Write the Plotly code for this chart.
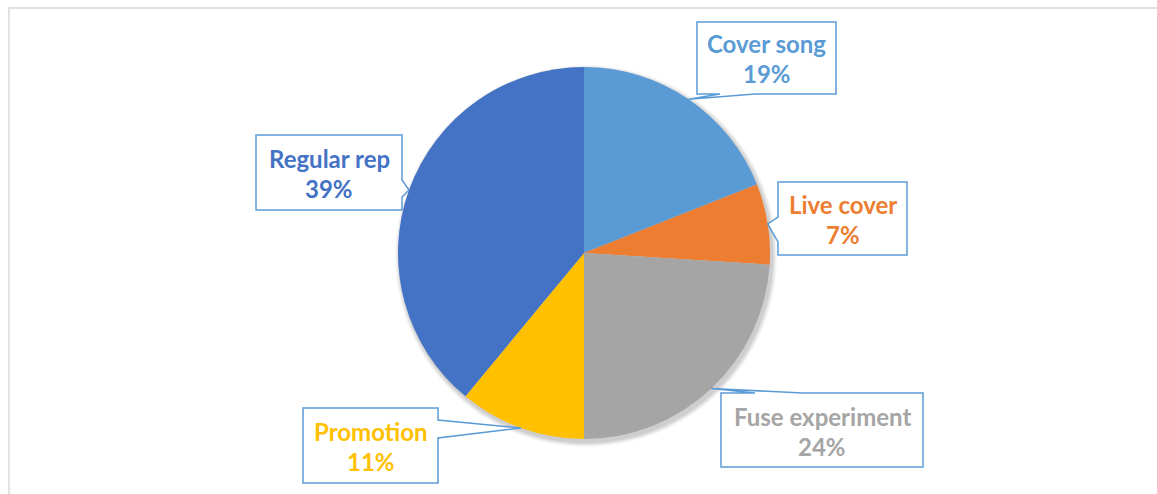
import math
import plotly.graph_objects as go

# Share of each category, clockwise from 12 o'clock
categories = ["Cover song", "Live cover", "Fuse experiment", "Promotion", "Regular rep"]
shares = [19, 7, 24, 11, 39]
colors = ["#5B9BD5", "#ED7D31", "#A5A5A5", "#FFC000", "#4472C4"]

W, H = 1157, 494
CX, CY, R = 584, 253, 186          # pie centre and radius in pixels
BORDER_BLUE = "#5B9BD5"

# Callout boxes (x0, y0, x1, y1 in px, top-down), side that carries the pointer,
# and the span on that side where the pointer leaves the box
callouts = {
    "Cover song":      ((697, 22, 836, 94),  "bottom", (720, 755)),
    "Live cover":      ((778, 182, 907, 255), "left",   (217, 242)),
    "Fuse experiment": ((721, 393, 923, 467), "top",    (755, 803)),
    "Promotion":       ((303, 408, 438, 483), "right",  (420, 438)),
    "Regular rep":     ((256, 135, 402, 210), "right",  (180, 197)),
}


def px(x, y):
    return x / W, 1 - y / H


def callout_path(box, side, span, tip):
    x0, y0, x1, y1 = box
    a, b = span
    tx, ty = tip
    if side == "bottom":
        pts = [(x0, y0), (x1, y0), (x1, y1), (b, y1), (tx, ty), (a, y1), (x0, y1)]
    elif side == "top":
        pts = [(x0, y0), (a, y0), (tx, ty), (b, y0), (x1, y0), (x1, y1), (x0, y1)]
    elif side == "left":
        pts = [(x0, y0), (x1, y0), (x1, y1), (x0, y1), (x0, b), (tx, ty), (x0, a)]
    else:  # right
        pts = [(x0, y0), (x1, y0), (x1, a), (tx, ty), (x1, b), (x1, y1), (x0, y1)]
    conv = [px(x, y) for x, y in pts]
    return "M " + " L ".join(f"{x:.5f},{y:.5f}" for x, y in conv) + " Z"


fig = go.Figure()

fx0, fy0 = px(CX - R, CY + R)
fx1, fy1 = px(CX + R, CY - R)
fig.add_trace(go.Pie(
    labels=categories,
    values=shares,
    sort=False,
    direction="clockwise",
    rotation=0,
    marker=dict(colors=colors, line=dict(width=0)),
    textinfo="none",
    hoverinfo="label+percent",
    showlegend=False,
    domain=dict(x=[fx0, fx1], y=[fy0, fy1]),
))

shapes = []
# Soft drop shadow behind the pie
for i, op in enumerate([0.05, 0.045, 0.04, 0.035, 0.03]):
    rr = R + 1 + i
    sx0, sy0 = px(CX + 2 - rr, CY + 3 + rr)
    sx1, sy1 = px(CX + 2 + rr, CY + 3 - rr)
    shapes.append(dict(type="circle", xref="paper", yref="paper", layer="below",
                       x0=sx0, y0=sy0, x1=sx1, y1=sy1,
                       fillcolor=f"rgba(0,0,0,{op})", line=dict(width=0)))

# Chart frame
bx0, by0 = px(9, 8)
bx1, by1 = px(1170, 510)
shapes.append(dict(type="rect", xref="paper", yref="paper",
                   x0=bx0, y0=by0, x1=bx1, y1=by1,
                   line=dict(color="#D9D9D9", width=1.5), fillcolor="rgba(0,0,0,0)"))

annotations = []
total = sum(shares)
cum = 0
for name, val, col in zip(categories, shares, colors):
    mid = (cum + val / 2) / total * 2 * math.pi
    cum += val
    tip = (CX + R * math.sin(mid), CY - R * math.cos(mid))
    box, side, span = callouts[name]
    shapes.append(dict(type="path", xref="paper", yref="paper",
                       path=callout_path(box, side, span, tip),
                       fillcolor="white", line=dict(color=BORDER_BLUE, width=1.5)))
    xc = (box[0] + box[2]) / 2
    yc = (box[1] + box[3]) / 2
    pct = f"{round(val / total * 100)}%"
    for text, yy in ((name, yc - 14), (pct, yc + 16)):
        ax, ay = px(xc, yy)
        annotations.append(dict(x=ax, y=ay, xref="paper", yref="paper",
                                text=f"<b>{text}</b>", showarrow=False,
                                xanchor="center", yanchor="middle",
                                font=dict(family="Lato", size=24, color=col)))

fig.update_layout(
    width=W, height=H,
    margin=dict(l=0, r=0, t=0, b=0),
    paper_bgcolor="white",
    plot_bgcolor="white",
    shapes=shapes,
    annotations=annotations,
)

fig.write_html("out.html")
